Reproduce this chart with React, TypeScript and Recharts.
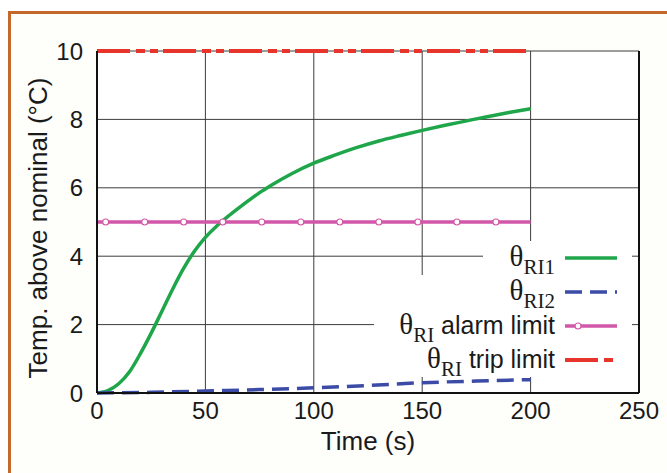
import React from 'react';
import { LineChart, Line, XAxis, YAxis, CartesianGrid, Label } from 'recharts';

// ---- data ----
const RI1_TIME = [0, 5, 10, 15, 20, 25, 30, 35, 40, 45, 50, 55, 60, 65, 70, 75, 80, 90, 100, 110, 120, 130, 140, 150, 160, 170, 180, 190, 200];
const RI1_VALUES = [0, 0.07, 0.27, 0.62, 1.15, 1.75, 2.4, 3.05, 3.65, 4.15, 4.55, 4.87, 5.14, 5.39, 5.63, 5.86, 6.06, 6.42, 6.72, 6.96, 7.18, 7.37, 7.53, 7.68, 7.82, 7.95, 8.08, 8.2, 8.31];
const RI2_TIME = [0, 25, 50, 75, 100, 125, 150, 175, 200];
const RI2_VALUES = [0, 0.02, 0.06, 0.1, 0.15, 0.22, 0.3, 0.35, 0.39];
const ALARM_TIME = [0, 4, 22, 40, 58, 76, 94, 112, 130, 148, 166, 184, 200];
const ALARM_MARKER = [false, true, true, true, true, true, true, true, true, true, true, true, false];
const ALARM_LEVEL = 5;
const TRIP_TIME = [0, 200];
const TRIP_LEVEL = 10;
const X_TICKS = [0, 50, 100, 150, 200, 250];
const Y_TICKS = [0, 2, 4, 6, 8, 10];
const X_TITLE = 'Time (s)';
const Y_TITLE = 'Temp. above nominal (°C)';

const ri1Data = RI1_TIME.map((t, i) => ({ t, v: RI1_VALUES[i] }));
const ri2Data = RI2_TIME.map((t, i) => ({ t, v: RI2_VALUES[i] }));
const alarmData = ALARM_TIME.map((t, i) => ({ t, v: ALARM_LEVEL, m: ALARM_MARKER[i] }));
const tripData = TRIP_TIME.map((t) => ({ t, v: TRIP_LEVEL }));

const GREEN = '#1fa64a';
const BLUE = '#3b4ba6';
const MAGENTA = '#d257a8';
const RED = '#e8352b';
const TRIP_DASH = '33 6 9 5 8 5';
const SANS = '"Liberation Sans", Arial, Helvetica, sans-serif';
const SERIF = '"Liberation Serif", "Times New Roman", serif';

const AlarmDot = (props: any) => {
  const { cx, cy, payload, index } = props;
  if (!payload || !payload.m) return <g key={`d${index}`} />;
  return <circle key={`d${index}`} cx={cx} cy={cy} r={3} fill="#fff" stroke={MAGENTA} strokeWidth={1.2} />;
};

const XTitle = (props: any) => {
  const vb = props.viewBox || { x: 97, width: 542 };
  return (
    <text x={vb.x + vb.width / 2} y={450} textAnchor="middle" fontSize={26} fontFamily={SANS} fill="#1a1a1a">
      {X_TITLE}
    </text>
  );
};

const YTitle = () => {
  const cx = 38;
  const cy = 228;
  return (
    <text x={cx} y={cy} transform={`rotate(-90, ${cx}, ${cy})`} textAnchor="middle" dominantBaseline="central" fontSize={26} fontFamily={SANS} fill="#1a1a1a">
      {Y_TITLE}
    </text>
  );
};

const LEGEND = [
  { sub: 'RI1', rest: '', color: GREEN, dash: undefined as string | undefined, marker: false },
  { sub: 'RI2', rest: '', color: BLUE, dash: '17 8', marker: false },
  { sub: 'RI', rest: ' alarm limit', color: MAGENTA, dash: undefined, marker: true },
  { sub: 'RI', rest: ' trip limit', color: RED, dash: TRIP_DASH, marker: false },
];

const LegendRow = ({ item }: { item: (typeof LEGEND)[number] }) => (
  <div style={{ display: 'flex', alignItems: 'center', justifyContent: 'flex-end', height: 34, background: '#fff' }}>
    <span style={{ whiteSpace: 'nowrap', color: '#1a1a1a', lineHeight: '34px' }}>
      <span style={{ fontFamily: SERIF, fontSize: 29 }}>θ</span>
      <span style={{ fontFamily: SERIF, fontSize: 21, position: 'relative', top: 8 }}>{item.sub}</span>
      <span style={{ fontFamily: SANS, fontSize: 25 }}>{item.rest}</span>
    </span>
    <svg width={52} height={10} style={{ marginLeft: 10, marginRight: 15, display: 'block' }}>
      <line x1={0} y1={5} x2={52} y2={5} stroke={item.color} strokeWidth={item.color === RED ? 4 : 3.5} strokeDasharray={item.dash} />
      {item.marker ? <circle cx={13} cy={5} r={3} fill="#fff" stroke={item.color} strokeWidth={1.2} /> : null}
    </svg>
  </div>
);

export default function App() {
  return (
    <div style={{ position: 'fixed', left: 0, top: 0, width: 667, height: 473, overflow: 'hidden', background: '#fff' }}>
      <div style={{ position: 'absolute', left: 8, top: 11, width: 720, height: 520, borderLeft: '3px solid #c4692b', borderTop: '3px solid #c4692b', background: '#fefefb' }} />
      <div style={{ position: 'absolute', left: 0, top: 0 }}>
        <LineChart width={667} height={473} margin={{ top: 51, right: 27, bottom: 40, left: 0 }}>
          <CartesianGrid stroke="#3c3c3c" strokeWidth={1} fill="#fff" />
          <XAxis
            xAxisId={0}
            dataKey="t"
            type="number"
            domain={[0, 250]}
            ticks={X_TICKS}
            allowDataOverflow
            height={40}
            tickLine={false}
            tickSize={0}
            tickMargin={9}
            axisLine={{ stroke: '#111', strokeWidth: 2 }}
            tick={{ fontSize: 24, fontFamily: SANS, fill: '#1a1a1a' }}
          >
            <Label content={XTitle} />
          </XAxis>
          <XAxis xAxisId="top" orientation="top" type="number" domain={[0, 250]} ticks={X_TICKS} height={0} tick={false} tickLine={false} axisLine={{ stroke: '#111', strokeWidth: 2 }} />
          <YAxis
            yAxisId={0}
            type="number"
            domain={[0, 10]}
            ticks={Y_TICKS}
            width={97}
            tickLine={false}
            tickSize={0}
            tickMargin={14}
            axisLine={{ stroke: '#111', strokeWidth: 2 }}
            tick={{ fontSize: 24, fontFamily: SANS, fill: '#1a1a1a' }}
          >
            <Label content={YTitle} />
          </YAxis>
          <YAxis yAxisId="r" orientation="right" type="number" domain={[0, 10]} ticks={Y_TICKS} width={1} tick={false} tickLine={false} axisLine={{ stroke: '#111', strokeWidth: 2 }} />
          <Line data={ri1Data} dataKey="v" type="monotone" stroke={GREEN} strokeWidth={3.5} dot={false} isAnimationActive={false} />
          <Line data={ri2Data} dataKey="v" type="monotone" stroke={BLUE} strokeWidth={3.5} strokeDasharray="17 8" dot={false} isAnimationActive={false} />
          <Line data={alarmData} dataKey="v" type="linear" stroke={MAGENTA} strokeWidth={3.5} dot={AlarmDot} isAnimationActive={false} />
          <Line data={tripData} dataKey="v" type="linear" stroke={RED} strokeWidth={4} strokeDasharray={TRIP_DASH} dot={false} isAnimationActive={false} />
        </LineChart>
      </div>
      <div style={{ position: 'absolute', right: 35, top: 241, display: 'flex', flexDirection: 'column', alignItems: 'flex-end' }}>
        <div style={{ paddingLeft: 27, background: '#fff' }}>
          <LegendRow item={LEGEND[0]} />
        </div>
        <div style={{ paddingLeft: 25, background: '#fff', display: 'flex', flexDirection: 'column', alignItems: 'flex-end' }}>
          <LegendRow item={LEGEND[1]} />
          <LegendRow item={LEGEND[2]} />
          <LegendRow item={LEGEND[3]} />
        </div>
      </div>
    </div>
  );
}
